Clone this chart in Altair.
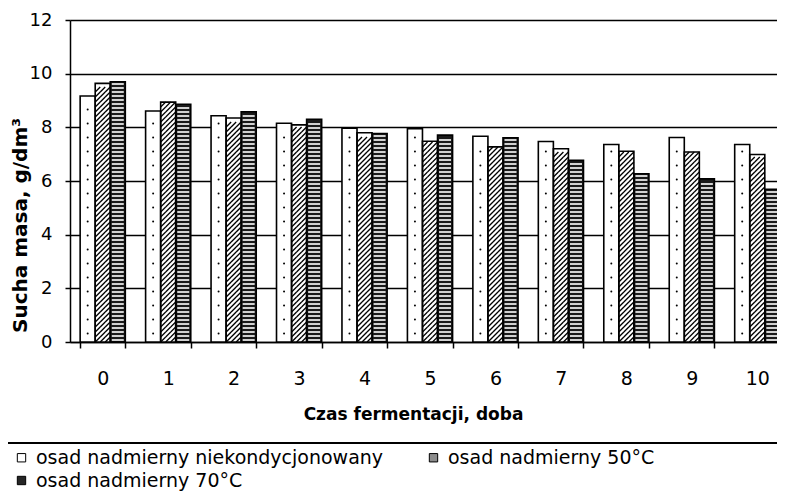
import altair as alt
import pandas as pd

# ---- data ----
DAYS = ["0", "1", "2", "3", "4", "5", "6", "7", "8", "9", "10"]
SERIES = [
    "osad nadmierny niekondycjonowany",
    "osad nadmierny 50°C",
    "osad nadmierny 70°C",
]
S_RAW = [9.17, 8.61, 8.43, 8.15, 7.97, 7.95, 7.67, 7.47, 7.36, 7.62, 7.36]
S_50 = [9.64, 8.94, 8.35, 8.09, 7.80, 7.48, 7.27, 7.20, 7.11, 7.08, 6.99]
S_70 = [9.70, 8.86, 8.58, 8.30, 7.77, 7.71, 7.61, 6.77, 6.27, 6.08, 5.69]
Y_TICKS = [0, 2, 4, 6, 8, 10, 12]

# ---- layout / style ----
W, H = 707, 322          # visible plot area (page is 785 wide incl. margins)
X_RANGE = 720            # the category axis runs on past the right edge
FONT = "DejaVu Sans"
UNIT = 12.0 / H              # data units per pixel
HATCH = 5 * UNIT             # hatch cell (5 px)
STRIPE = 4 * UNIT            # stripe step (4 px)
DOT = 14 * UNIT              # dot step

rows = []
for s, vals in zip(SERIES, [S_RAW, S_50, S_70]):
    for d, v in zip(DAYS, vals):
        rows.append({"day": d, "series": s, "value": v})
df = pd.DataFrame(rows)

x_scale = alt.Scale(domain=DAYS, range=[0, X_RANGE],
                    paddingInner=0.31, paddingOuter=0.155)
xo_scale = alt.Scale(domain=SERIES, paddingInner=0, paddingOuter=0)
y_scale = alt.Scale(domain=[0, 12], nice=False)

x_enc = alt.X(
    "day:N", sort=DAYS, scale=x_scale,
    axis=alt.Axis(
        title="Czas fermentacji, doba", titleFont=FONT, titleFontSize=17,
        titleFontWeight="bold", titleColor="black", titleX=343, titleY=72,
        titleBaseline="middle",
        labelFont=FONT, labelFontSize=19, labelColor="black", labelAngle=0,
        labelPadding=21, tickSize=6, tickColor="black", tickWidth=1.5,
        tickBand="extent", domainColor="black", domainWidth=1.5, grid=False,
    ),
)
xo_enc = alt.XOffset("series:N", scale=xo_scale, sort=SERIES)
y_axis = alt.Axis(
    values=Y_TICKS, title="Sucha masa, g/dm³", titleFont=FONT, titleFontSize=20,
    titleFontWeight="bold", titleColor="black", titleAngle=270, titleX=-50,
    titleY=205, titleAlign="center", titleBaseline="middle",
    labelFont=FONT, labelFontSize=18, labelColor="black", labelPadding=13,
    tickSize=5, tickColor="black", tickWidth=1.5,
    domainColor="black", domainWidth=1.5,
    grid=True, gridColor="black", gridWidth=1.5,
)

base = alt.Chart(df)

# legend carrier (hidden under the bars)
legend_layer = base.transform_calculate(half="datum.value / 2").mark_square(
    size=4, stroke="black", strokeWidth=1
).encode(
    x=x_enc, xOffset=xo_enc,
    y=alt.Y("half:Q", scale=y_scale, axis=y_axis),
    color=alt.Color(
        "series:N", sort=SERIES,
        scale=alt.Scale(domain=SERIES, range=["white", "#8c8c8c", "#262626"]),
        legend=alt.Legend(
            title=None, orient="none", direction="horizontal",
            legendX=-58, legendY=428, columns=2,
            columnPadding=40, rowPadding=3, symbolType="square", symbolSize=70,
            symbolStrokeColor="black", symbolStrokeWidth=1, symbolOpacity=1,
            labelFont=FONT, labelFontSize=19, labelColor="black", labelOffset=5,
            labelLimit=0, padding=0,
        ),
    ),
)

bars = base.mark_bar(strokeWidth=0).encode(
    x=x_enc, xOffset=xo_enc,
    y=alt.Y("value:Q", scale=y_scale, axis=y_axis),
    fill=alt.Fill(
        "series:N", sort=SERIES,
        scale=alt.Scale(domain=SERIES, range=["white", "white", "#1a1a1a"]),
        legend=None,
    ),
)

dots = base.transform_filter(alt.datum.series == SERIES[0]).transform_calculate(
    ys=f"sequence({DOT * 0.6}, datum.value - {DOT * 0.3}, {DOT})"
).transform_flatten(["ys"]).mark_circle(size=4, color="black", opacity=1).encode(
    x=x_enc, xOffset=xo_enc, y=alt.Y("ys:Q", scale=y_scale, axis=y_axis),
)

stripes = base.transform_filter(alt.datum.series == SERIES[2]).transform_calculate(
    ys=f"sequence({STRIPE * 0.5}, datum.value - {STRIPE * 0.3}, {STRIPE})"
).transform_flatten(["ys"]).mark_tick(
    orient="horizontal", size=12, thickness=1.6, color="white", opacity=1
).encode(
    x=x_enc, xOffset=xo_enc, y=alt.Y("ys:Q", scale=y_scale, axis=y_axis),
)

hatch_layers = []
for off in (-5, 0, 5):
    hatch_layers.append(
        base.transform_filter(alt.datum.series == SERIES[1]).transform_calculate(
            ys=f"sequence({HATCH * 0.5}, datum.value - {HATCH * 0.45}, {HATCH})"
        ).transform_flatten(["ys"]).mark_point(
            shape="M-1,1L1,-1", size=25, filled=False, stroke="black",
            strokeWidth=1.3, opacity=1, xOffset=off,
        ).encode(
            x=x_enc, y=alt.Y("ys:Q", scale=y_scale, axis=y_axis),
        )
    )

outlines = base.mark_bar(fillOpacity=0, stroke="black", strokeWidth=1.6).encode(
    x=x_enc, xOffset=xo_enc, y=alt.Y("value:Q", scale=y_scale, axis=y_axis),
)

sep = alt.Chart(pd.DataFrame({"r": [0]})).mark_rule(
    color="black", strokeWidth=2
).encode(x=alt.value(-70), x2=alt.value(W), y=alt.value(423))

chart = alt.layer(
    legend_layer, bars, dots, stripes, *hatch_layers, outlines, sep
).properties(
    width=W, height=H,
    autosize=alt.AutoSizeParams(type="none"),
    padding={"left": 62, "top": 12, "right": 0, "bottom": 149},
    background="white",
).configure_view(stroke=None)

chart.save("out.html", embed_options={"renderer": "svg", "actions": False})
